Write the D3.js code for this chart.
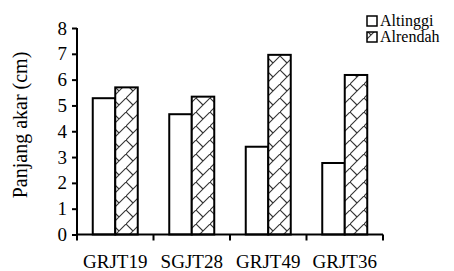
<!DOCTYPE html>
<html><head><meta charset="utf-8">
<script src="https://cdn.jsdelivr.net/npm/d3@7"></script>
<style>body{margin:0;background:#fff}svg{display:block}text{font-family:"Liberation Serif","Times New Roman",serif;fill:#000}</style>
</head><body><svg id="c" width="454" height="271"></svg>
<script>
const categories = ["GRJT19", "SGJT28", "GRJT49", "GRJT36"];
const altinggi = [5.28, 4.66, 3.4, 2.77];
const alrendah = [5.7, 5.34, 6.96, 6.18];
const seriesNames = ["Altinggi", "Alrendah"];
const yTicks = [0, 1, 2, 3, 4, 5, 6, 7, 8];
const yLabel = "Panjang akar (cm)";

const svg = d3.select("#c");
const defs = svg.append("defs");
const pat = defs.append("pattern").attr("id", "hatch").attr("patternUnits", "userSpaceOnUse")
  .attr("width", 14).attr("height", 14);
pat.append("rect").attr("width", 14).attr("height", 14).attr("fill", "#fff");
pat.append("path").attr("d", "M-1,15L15,-1M0,0L7,7").attr("stroke", "#333").attr("stroke-width", 1.1).attr("fill", "none");

const x0 = d3.scaleBand().domain(categories).range([77, 383]).paddingInner(0).paddingOuter(0);
const x1 = d3.scaleBand().domain(seriesNames).range([0, 45]);
const y = d3.scaleLinear().domain([0, 8]).range([234.5, 28]);

const data = categories.map((c, i) => ({c, vals: [altinggi[i], alrendah[i]]}));
const g = svg.append("g");
data.forEach(d => {
  const off = x0(d.c) + (x0.bandwidth() - 45) / 2;
  d.vals.forEach((v, j) => {
    g.append("rect")
      .attr("x", off + x1(seriesNames[j]))
      .attr("y", y(v))
      .attr("width", x1.bandwidth())
      .attr("height", y(0) - y(v))
      .attr("fill", j === 0 ? "#fff" : "url(#hatch)")
      .attr("stroke", "#000").attr("stroke-width", 2);
  });
});

// y axis
const ya = svg.append("g").attr("transform", "translate(77,0)")
  .call(d3.axisLeft(y).tickValues(yTicks).tickSize(5).tickPadding(5).tickFormat(d3.format("d")));
ya.attr("font-family", null);
ya.select(".domain").attr("stroke-width", 2).attr("d", `M0,${y(8)}V${y(0)}`);
ya.selectAll(".tick line").attr("stroke-width", 2);
ya.selectAll(".tick text").style("font-size", "19px");

// x axis
const xa = svg.append("g").attr("transform", `translate(0,${y(0)})`)
  .call(d3.axisBottom(x0).tickSize(0).tickPadding(20));
xa.attr("font-family", null);
xa.select(".domain").attr("stroke-width", 2).attr("d", "M77,0H383");
xa.selectAll(".tick text").style("font-size", "19px");
const bounds = categories.map(c => x0(c)).concat([x0(categories[categories.length - 1]) + x0.bandwidth()]);
xa.selectAll(".sep").data(bounds).enter().append("line")
  .attr("x1", d => d).attr("x2", d => d).attr("y1", 0).attr("y2", 6)
  .attr("stroke", "#000").attr("stroke-width", 2);

// y label
svg.append("text").attr("transform", "translate(27,125) rotate(-90)")
  .attr("text-anchor", "middle").style("font-size", "20px").text(yLabel);

// legend
const lg = svg.append("g");
seriesNames.forEach((n, i) => {
  lg.append("rect").attr("x", 367).attr("y", 16 + i * 16).attr("width", 10).attr("height", 10)
    .attr("fill", i === 0 ? "#fff" : "url(#hatch)").attr("stroke", "#000").attr("stroke-width", 1.5);
  lg.append("text").attr("x", 380).attr("y", 25.5 + i * 16.5).style("font-size", "16px").text(n);
});
</script></body></html>
